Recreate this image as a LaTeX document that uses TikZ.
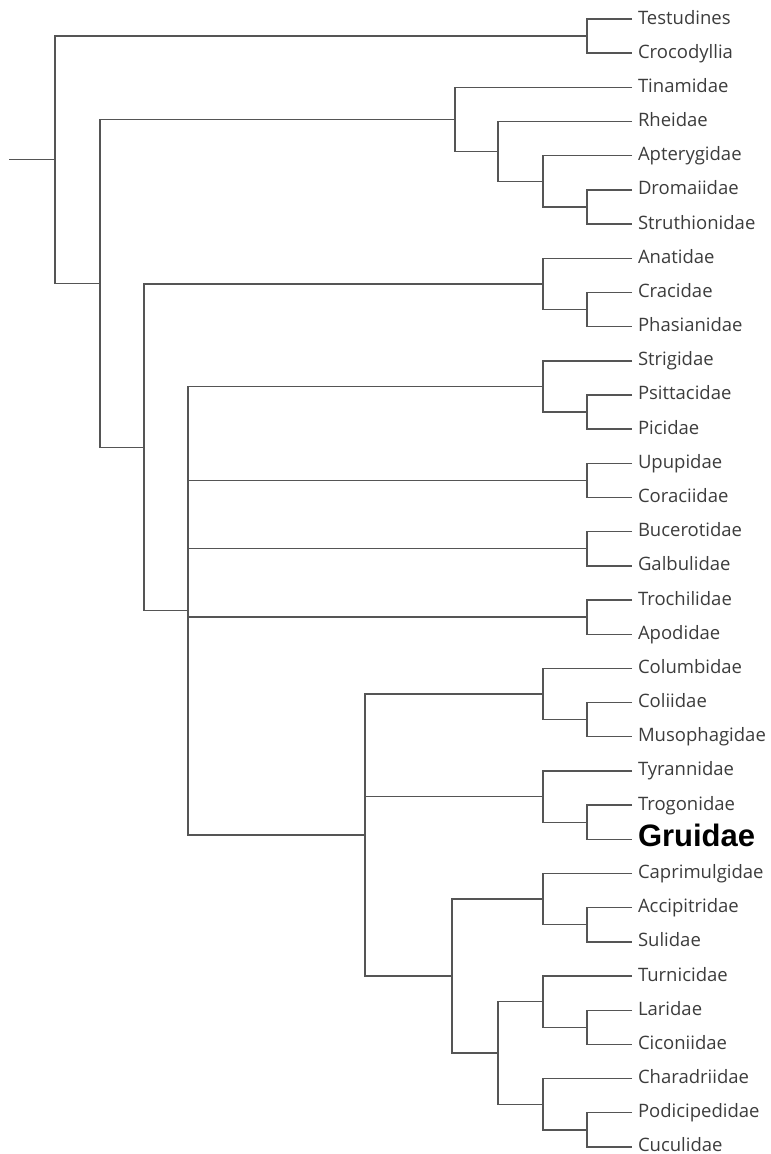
\documentclass[tikz,border=0pt]{standalone}
\usepackage{fontspec}
\setmainfont{Open Sans}
\newfontfamily\boldlabel{Liberation Sans}
\usepackage{xcolor}
\definecolor{branchgray}{HTML}{555555}
\definecolor{taxongray}{HTML}{3C3C3C}
\usetikzlibrary{positioning}

\begin{document}
\begin{tikzpicture}[
  x=1pt,y=-1pt,
  node distance=0pt,
  taxon/.style={text=taxongray,font=\fontsize{18.5}{20}\selectfont,
                text width=150pt,align=left,inner xsep=6pt,inner ysep=0pt,
                outer sep=0pt,text height=14.5pt,text depth=4.5pt,
                minimum height=34.18pt},
  branch/.style={draw=branchgray,line width=1.4pt}
]
  \useasboundingbox (0,0) rectangle (771,1154);

  \node[taxon,anchor=west] (testudines) at (632,19) {Testudines};
  \node[taxon,below=of testudines] (crocodyllia) {Crocodyllia};
  \node[taxon,below=of crocodyllia] (tinamidae) {Tinamidae};
  \node[taxon,below=of tinamidae] (rheidae) {Rheidae};
  \node[taxon,below=of rheidae] (apterygidae) {Apterygidae};
  \node[taxon,below=of apterygidae] (dromaiidae) {Dromaiidae};
  \node[taxon,below=of dromaiidae] (struthionidae) {Struthionidae};
  \node[taxon,below=of struthionidae] (anatidae) {Anatidae};
  \node[taxon,below=of anatidae] (cracidae) {Cracidae};
  \node[taxon,below=of cracidae] (phasianidae) {Phasianidae};
  \node[taxon,below=of phasianidae] (strigidae) {Strigidae};
  \node[taxon,below=of strigidae] (psittacidae) {Psittacidae};
  \node[taxon,below=of psittacidae] (picidae) {Picidae};
  \node[taxon,below=of picidae] (upupidae) {Upupidae};
  \node[taxon,below=of upupidae] (coraciidae) {Coraciidae};
  \node[taxon,below=of coraciidae] (bucerotidae) {Bucerotidae};
  \node[taxon,below=of bucerotidae] (galbulidae) {Galbulidae};
  \node[taxon,below=of galbulidae] (trochilidae) {Trochilidae};
  \node[taxon,below=of trochilidae] (apodidae) {Apodidae};
  \node[taxon,below=of apodidae] (columbidae) {Columbidae};
  \node[taxon,below=of columbidae] (coliidae) {Coliidae};
  \node[taxon,below=of coliidae] (musophagidae) {Musophagidae};
  \node[taxon,below=of musophagidae] (tyrannidae) {Tyrannidae};
  \node[taxon,below=of tyrannidae] (trogonidae) {Trogonidae};
  \node[taxon,below=of trogonidae,text=black,text height=15pt,text depth=1pt,
        font=\boldlabel\bfseries\fontsize{31}{32}\selectfont] (gruidae) {Gruidae};
  \node[taxon,below=of gruidae] (caprimulgidae) {Caprimulgidae};
  \node[taxon,below=of caprimulgidae] (accipitridae) {Accipitridae};
  \node[taxon,below=of accipitridae] (sulidae) {Sulidae};
  \node[taxon,below=of sulidae] (turnicidae) {Turnicidae};
  \node[taxon,below=of turnicidae] (laridae) {Laridae};
  \node[taxon,below=of laridae] (ciconiidae) {Ciconiidae};
  \node[taxon,below=of ciconiidae] (charadriidae) {Charadriidae};
  \node[taxon,below=of charadriidae] (podicipedidae) {Podicipedidae};
  \node[taxon,below=10.59pt of podicipedidae,minimum height=0pt,
        text height=11.5pt,text depth=1.5pt] (cuculidae) {Cuculidae};

  \coordinate (stem) at (9,159.75);
  \coordinate (root) at (55,159.75);
  \coordinate (testcroc) at (587,36.1);
  \coordinate (aves) at (100,283.4);
  \coordinate (palaeo) at (455,119.4);
  \coordinate (rhei) at (498,151.45);
  \coordinate (apter) at (543,181.36);
  \coordinate (dromstru) at (587,207);
  \coordinate (neognath) at (144,447.3);
  \coordinate (galloans) at (543,283.9);
  \coordinate (cracphas) at (587,309.53);
  \coordinate (neoaves) at (188,610.7);
  \coordinate (strig) at (543,386.44);
  \coordinate (psitpic) at (587,412.07);
  \coordinate (upcor) at (587,480.43);
  \coordinate (bucgal) at (587,548.79);
  \coordinate (troap) at (587,617.15);
  \coordinate (landbirds) at (365,835);
  \coordinate (columb) at (543,694.06);
  \coordinate (colmus) at (587,719.69);
  \coordinate (tyran) at (543,796.6);
  \coordinate (trogru) at (587,822.23);
  \coordinate (caprturn) at (452,976);
  \coordinate (caprim) at (543,899.1);
  \coordinate (accsul) at (587,924.77);
  \coordinate (charturn) at (498,1052.95);
  \coordinate (turnic) at (543,1001.7);
  \coordinate (larcic) at (587,1027.31);
  \coordinate (charad) at (543,1104.2);
  \coordinate (podcuc) at (587,1129.85);

  \draw[branch] (stem) -- (root);
  \draw[branch] (testcroc) -| (root) |- (aves);
  \draw[branch] (testudines.west) -| (testcroc) |- (crocodyllia.west);
  \draw[branch] (palaeo) -| (aves) |- (neognath);
  \draw[branch] (tinamidae.west) -| (palaeo) |- (rhei);
  \draw[branch] (rheidae.west) -| (rhei) |- (apter);
  \draw[branch] (apterygidae.west) -| (apter) |- (dromstru);
  \draw[branch] (dromaiidae.west) -| (dromstru) |- (struthionidae.west);
  \draw[branch] (galloans) -| (neognath) |- (neoaves);
  \draw[branch] (anatidae.west) -| (galloans) |- (cracphas);
  \draw[branch] (cracidae.west) -| (cracphas) |- (phasianidae.west);
  \draw[branch] (strig) -| (neoaves) |- (landbirds);
  \draw[branch] (neoaves) |- (upcor);
  \draw[branch] (neoaves) |- (bucgal);
  \draw[branch] (neoaves) |- (troap);
  \draw[branch] (strigidae.west) -| (strig) |- (psitpic);
  \draw[branch] (psittacidae.west) -| (psitpic) |- (picidae.west);
  \draw[branch] (upupidae.west) -| (upcor) |- (coraciidae.west);
  \draw[branch] (bucerotidae.west) -| (bucgal) |- (galbulidae.west);
  \draw[branch] (trochilidae.west) -| (troap) |- (apodidae.west);
  \draw[branch] (columb) -| (landbirds) |- (caprturn);
  \draw[branch] (landbirds) |- (tyran);
  \draw[branch] (columbidae.west) -| (columb) |- (colmus);
  \draw[branch] (coliidae.west) -| (colmus) |- (musophagidae.west);
  \draw[branch] (tyrannidae.west) -| (tyran) |- (trogru);
  \draw[branch] (trogonidae.west) -| (trogru) |- (gruidae.west);
  \draw[branch] (caprim) -| (caprturn) |- (charturn);
  \draw[branch] (caprimulgidae.west) -| (caprim) |- (accsul);
  \draw[branch] (accipitridae.west) -| (accsul) |- (sulidae.west);
  \draw[branch] (turnic) -| (charturn) |- (charad);
  \draw[branch] (turnicidae.west) -| (turnic) |- (larcic);
  \draw[branch] (laridae.west) -| (larcic) |- (ciconiidae.west);
  \draw[branch] (charadriidae.west) -| (charad) |- (podcuc);
  \draw[branch] (podicipedidae.west) -| (podcuc) |- (cuculidae.west);
\end{tikzpicture}
\end{document}
